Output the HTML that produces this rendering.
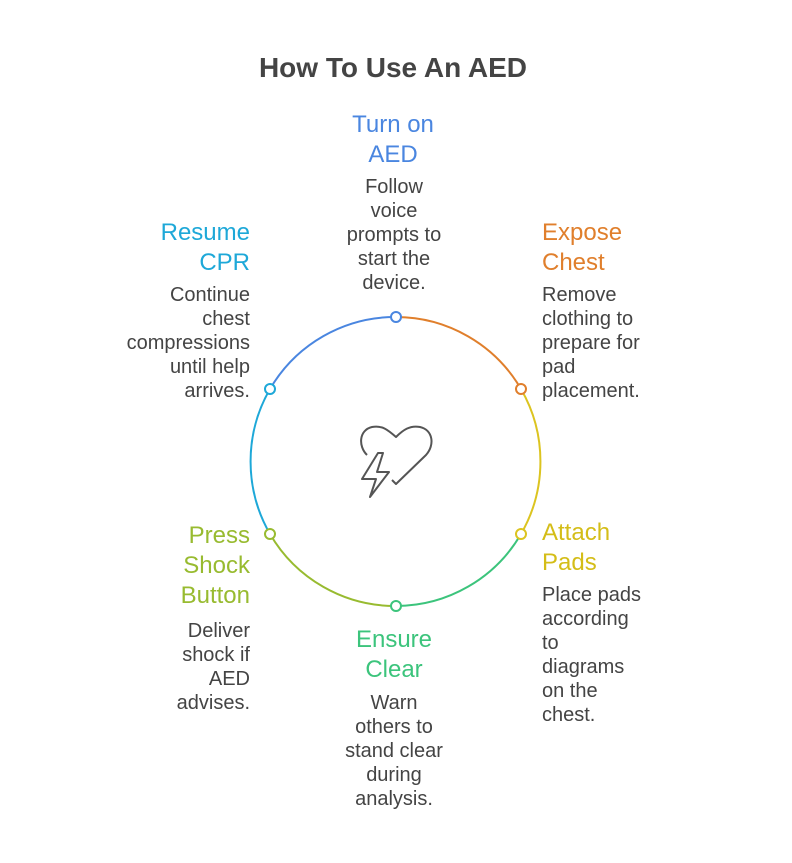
<!DOCTYPE html>
<html><head><style>body{margin:0;background:#fff}</style></head><body>
<svg width="792" height="858" xmlns="http://www.w3.org/2000/svg" font-family="Liberation Sans, sans-serif">
<rect width="792" height="858" fill="#fff"/>
<text x="393" y="77" text-anchor="middle" font-size="28" font-weight="bold" fill="#444">How To Use An AED</text>
<g fill="none" stroke-width="2">
<path d="M396 317 A145 145 0 0 1 521 389" stroke="#e07f2c"/>
<path d="M521 389 A145 145 0 0 1 521 534" stroke="#dcc420"/>
<path d="M521 534 A145 145 0 0 1 396 606" stroke="#3cc47c"/>
<path d="M396 606 A145 145 0 0 1 270 534" stroke="#98bb30"/>
<path d="M270 534 A145 145 0 0 1 270 389" stroke="#1ea8d8"/>
<path d="M270 389 A145 145 0 0 1 396 317" stroke="#4a86e0"/>
</g>
<g fill="#fff" stroke-width="2">
<circle cx="396" cy="317" r="5" stroke="#4a86e0"/>
<circle cx="521" cy="389" r="5" stroke="#e07f2c"/>
<circle cx="521" cy="534" r="5" stroke="#dcc420"/>
<circle cx="396" cy="606" r="5" stroke="#3cc47c"/>
<circle cx="270" cy="534" r="5" stroke="#98bb30"/>
<circle cx="270" cy="389" r="5" stroke="#1ea8d8"/>
</g>
<g fill="none" stroke="#555" stroke-width="2" stroke-linejoin="round">
<path d="M367 455 C358 446 359 430 372 427 C382 425 388 430 396 437 C403 430 410 425 420 427 C433 430 435 445 426 455 L396 484 L392 480"/>
<path d="M378 453 L362 479 L376 479 L370 497 L389 472 L377 472 L383 453 Z"/>
</g>
<g font-size="24" text-anchor="middle">
<text x="393" y="132" fill="#4a86e0">Turn on</text>
<text x="393" y="162" fill="#4a86e0">AED</text>
</g>
<g font-size="20" fill="#444" text-anchor="middle">
<text x="394" y="193">Follow</text><text x="394" y="217">voice</text><text x="394" y="241">prompts to</text><text x="394" y="265">start the</text><text x="394" y="289">device.</text>
</g>
<g font-size="24" fill="#e07f2c"><text x="542" y="240">Expose</text><text x="542" y="270">Chest</text></g>
<g font-size="20" fill="#444"><text x="542" y="301">Remove</text><text x="542" y="325">clothing to</text><text x="542" y="349">prepare for</text><text x="542" y="373">pad</text><text x="542" y="397">placement.</text></g>
<g font-size="24" fill="#d4bd18"><text x="542" y="540">Attach</text><text x="542" y="570">Pads</text></g>
<g font-size="20" fill="#444"><text x="542" y="601">Place pads</text><text x="542" y="625">according</text><text x="542" y="649">to</text><text x="542" y="673">diagrams</text><text x="542" y="697">on the</text><text x="542" y="721">chest.</text></g>
<g font-size="24" fill="#3cc47c" text-anchor="middle"><text x="394" y="647">Ensure</text><text x="394" y="677">Clear</text></g>
<g font-size="20" fill="#444" text-anchor="middle"><text x="394" y="709">Warn</text><text x="394" y="733">others to</text><text x="394" y="757">stand clear</text><text x="394" y="781">during</text><text x="394" y="805">analysis.</text></g>
<g font-size="24" fill="#98bb30" text-anchor="end"><text x="250" y="543">Press</text><text x="250" y="573">Shock</text><text x="250" y="603">Button</text></g>
<g font-size="20" fill="#444" text-anchor="end"><text x="250" y="637">Deliver</text><text x="250" y="661">shock if</text><text x="250" y="685">AED</text><text x="250" y="709">advises.</text></g>
<g font-size="24" fill="#1ea8d8" text-anchor="end"><text x="250" y="240">Resume</text><text x="250" y="270">CPR</text></g>
<g font-size="20" fill="#444" text-anchor="end"><text x="250" y="301">Continue</text><text x="250" y="325">chest</text><text x="250" y="349">compressions</text><text x="250" y="373">until help</text><text x="250" y="397">arrives.</text></g>
</svg>
</body></html>
